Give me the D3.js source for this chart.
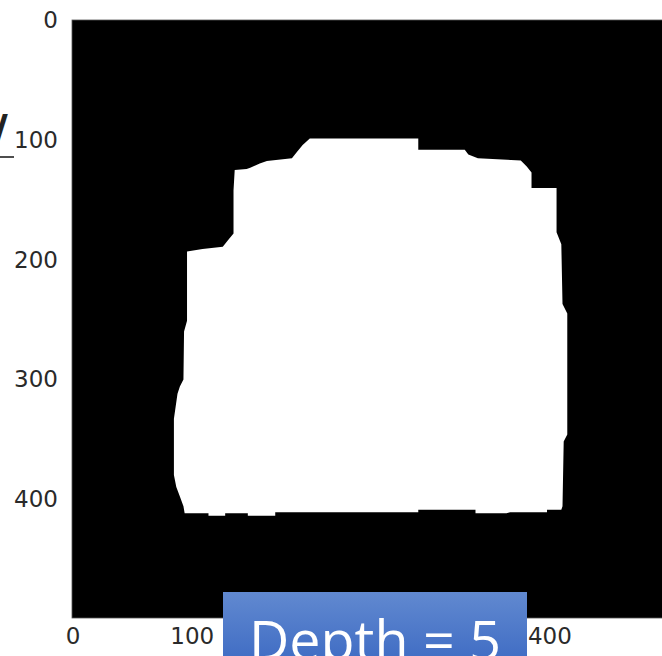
<!DOCTYPE html>
<html>
<head>
<meta charset="utf-8">
<script src="https://cdn.jsdelivr.net/npm/d3@7"></script>
<style>
  body { margin: 0; background: #fff; overflow: hidden; }
</style>
</head>
<body>
<div id="viz-container"></div>
<script>
// outline of the white mask, in image pixel units (500 x 500 image)
const outlineX = [199, 290, 290, 329, 332, 340, 376, 381, 385, 385, 406, 406, 410, 411, 415, 415, 412, 411, 410,
  398, 398, 367, 364, 338, 338, 290, 290, 170, 170, 147, 147, 128, 128, 114, 114, 94, 93, 90, 87, 85, 85,
  88, 90, 93, 93.5, 96, 96, 109, 126, 130, 135, 135, 136, 146, 149, 157, 163, 184, 188, 193];
const outlineY = [98.5, 98.5, 108, 108, 112, 115, 117, 122, 127, 140, 140, 177, 187, 237, 245, 346, 352, 406, 409,
  409, 411, 411, 412, 412, 409, 409, 411, 411, 414, 414, 412, 412, 414, 414, 412, 412, 406, 398, 390, 380, 333,
  312, 306, 300, 260, 251, 193, 191, 189, 184, 178, 142, 125, 124, 123, 119.5, 117.4, 115, 110, 104];
const imageSize = 500;
// 200 and 300 on the x axis sit under the label box in the picture
const xTicks = [0, 100, 400];
const yTicks = [0, 100, 200, 300, 400];
const label = 'Depth = 5';

const W = 662, H = 656;
const plot = {left: 72, top: 20, right: 668, bottom: 618};

const svg = d3.select('#viz-container')
  .append('svg')
  .attr('width', W)
  .attr('height', H);

const defs = svg.append('defs');
const grad = defs.append('linearGradient')
  .attr('id', 'boxfill')
  .attr('x1', 0).attr('y1', 0).attr('x2', 0).attr('y2', 1);
grad.append('stop').attr('offset', '0%').attr('stop-color', '#6189d0');
grad.append('stop').attr('offset', '100%').attr('stop-color', '#3a68c2');
defs.append('filter').attr('id', 'soft')
  .append('feGaussianBlur').attr('stdDeviation', 0.6);

// imshow-like scales: pixel centres sit on integer values
const x = d3.scaleLinear()
  .domain([-0.5, imageSize - 0.5])
  .range([plot.left, plot.right]);
const y = d3.scaleLinear()
  .domain([-0.5, imageSize - 0.5])
  .range([plot.top, plot.bottom]);

// black image background
svg.append('rect')
  .attr('x', x(-0.5))
  .attr('y', y(-0.5))
  .attr('width', x(imageSize - 0.5) - x(-0.5))
  .attr('height', y(imageSize - 0.5) - y(-0.5))
  .attr('fill', '#000')
  .attr('stroke', '#555')
  .attr('stroke-width', 0.8);

// white mask
const line = d3.line()
  .x(d => x(d[0]))
  .y(d => y(d[1]))
  .curve(d3.curveLinearClosed);
svg.append('path')
  .datum(d3.zip(outlineX, outlineY))
  .attr('d', line)
  .attr('fill', '#fff')
  .attr('filter', 'url(#soft)');

// axes
const yAxis = svg.append('g')
  .attr('transform', `translate(${plot.left},0)`)
  .call(d3.axisLeft(y).tickValues(yTicks).tickSize(0).tickPadding(14));
const xAxis = svg.append('g')
  .attr('transform', `translate(0,${plot.bottom})`)
  .call(d3.axisBottom(x).tickValues(xTicks).tickSize(0).tickPadding(10));
[xAxis, yAxis].forEach(g => {
  g.select('.domain').remove();
  g.selectAll('text')
    .attr('font-family', 'DejaVu Sans')
    .attr('font-size', 23)
    .attr('fill', '#2a2a2a');
});

// label box from the slide
const box = svg.append('g');
box.append('rect')
  .attr('x', 223)
  .attr('y', 592)
  .attr('width', 304)
  .attr('height', 80)
  .attr('fill', 'url(#boxfill)');
const t = box.append('text')
  .text(label)
  .attr('font-family', 'Open Sans')
  .attr('font-size', 100)
  .attr('fill', '#fff');
const fs = 100 * 252 / t.node().getComputedTextLength();
t.attr('font-size', fs)
  .attr('x', 249)
  .attr('y', 620 + 0.714 * fs);

// cut-off slide text at the left edge
svg.append('text')
  .attr('x', -9)
  .attr('y', 148)
  .attr('font-family', 'DejaVu Sans')
  .attr('font-weight', 'bold')
  .attr('font-size', 46)
  .attr('fill', '#222')
  .text('/');
svg.append('line')
  .attr('x1', 0).attr('x2', 14)
  .attr('y1', 157).attr('y2', 157)
  .attr('stroke', '#222')
  .attr('stroke-width', 1.6);
</script>
</body>
</html>
